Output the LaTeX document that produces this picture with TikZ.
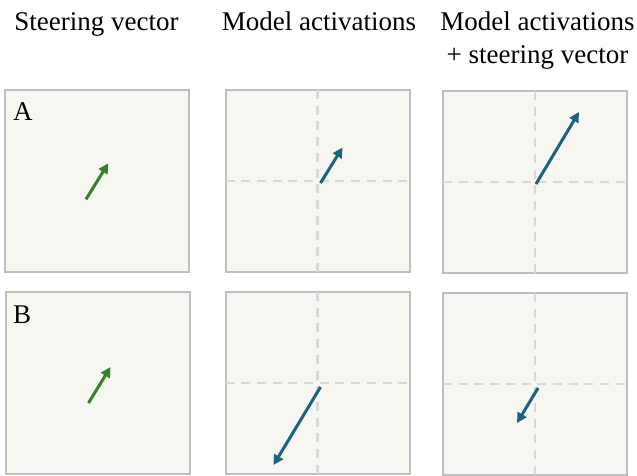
\documentclass[tikz,border=0pt]{standalone}
\usepackage{fontspec}
\setmainfont{Liberation Serif}
\usetikzlibrary{arrows.meta}
\definecolor{panelfill}{HTML}{F7F6F0}
\definecolor{panelborder}{HTML}{BFBFBF}
\definecolor{gridline}{HTML}{D8D8D8}
\definecolor{steergreen}{HTML}{33822A}
\definecolor{actblue}{HTML}{1A6182}
\tikzset{
  panel/.style={draw=panelborder, fill=panelfill, line width=2pt, minimum width=184pt, minimum height=182pt, inner sep=0pt},
  axis/.style={draw=gridline, line width=2.4pt, dash pattern=on 9pt off 6.7pt},
  vec/.style={line width=3pt, -{Triangle[length=10pt,width=10pt]}},
  steervec/.style={vec, steergreen},
  actvec/.style={vec, actblue},
  heading/.style={font=\fontsize{27}{33}\selectfont, inner sep=0pt, anchor=base},
  letter/.style={font=\fontsize{27}{33}\selectfont, inner sep=0pt, anchor=base west}
}
\begin{document}
\begin{tikzpicture}[x=1pt,y=-1pt]
\useasboundingbox (0,0) rectangle (637,475);
\fill[white] (0,0) rectangle (637,475);
% headings
\node[heading] (h1) at (96.5,30) {Steering vector};
\node[heading] (h2) at (319,30) {Model activations};
\node[heading] (h3) at (537.5,30) {Model activations};
\node[heading] (h3b) at (537.5,63) {+ steering vector};
% row A
\node[panel] (A1) at (97,181) {};
\node[panel] (A2) at (317.5,181) {};
\node[panel] (A3) at (535,182) {};
% row B
\node[panel] (B1) at (97.5,383) {};
\node[panel] (B2) at (317.5,383) {};
\node[panel] (B3) at (535,384) {};
% axes
\foreach \p in {A2,A3,B2,B3}{
  \draw[axis] ([yshift=-1pt]\p.north) -- ([yshift=1pt]\p.south);
  \draw[axis] ([xshift=1pt]\p.west) -- ([xshift=-1pt]\p.east);
}
% letters
\node[letter] (la) at (13,120) {A};
\node[letter] (lb) at (13,323) {B};
% vector end points
\coordinate (a1s) at ([shift={(-11,18.3)}]A1.center);
\coordinate (a1e) at ([shift={(11.3,-17.7)}]A1.center);
\coordinate (a2s) at ([shift={(3,2)}]A2.center);
\coordinate (a2e) at ([shift={(25,-33.5)}]A2.center);
\coordinate (a3s) at ([shift={(1,2)}]A3.center);
\coordinate (a3e) at ([shift={(44,-70)}]A3.center);
\coordinate (b1s) at ([shift={(-9,20)}]B1.center);
\coordinate (b1e) at ([shift={(13,-16)}]B1.center);
\coordinate (b2s) at ([shift={(3,4)}]B2.center);
\coordinate (b2e) at ([shift={(-44,82)}]B2.center);
\coordinate (b3s) at ([shift={(3,4)}]B3.center);
\coordinate (b3e) at ([shift={(-18,39)}]B3.center);
% vectors
\draw[steervec] (a1s) -- (a1e);
\draw[actvec] (a2s) -- (a2e);
\draw[actvec] (a3s) -- (a3e);
\draw[steervec] (b1s) -- (b1e);
\draw[actvec] (b2s) -- (b2e);
\draw[actvec] (b3s) -- (b3e);
\end{tikzpicture}
\end{document}
